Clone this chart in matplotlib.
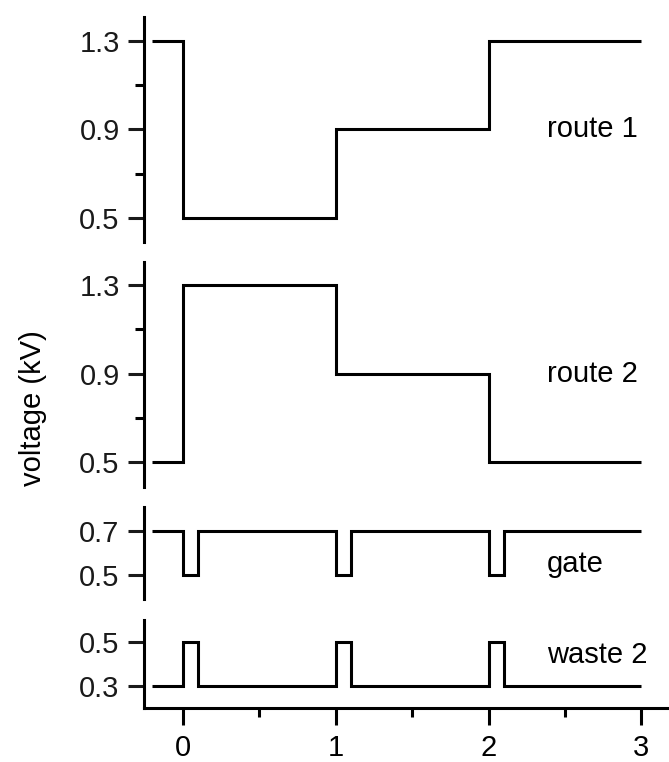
import numpy as np
from matplotlib import pyplot as plt
from matplotlib.ticker import FixedLocator

plt.rcParams['font.family'] = ['Liberation Sans', 'DejaVu Sans']

# ---------------- data ----------------
# step edges (time) and voltage levels (kV) for each channel
route1_t = [-0.2, 0, 1, 2, 3]
route1_v = [1.3, 0.5, 0.9, 1.3]

route2_t = [-0.2, 0, 1, 2, 3]
route2_v = [0.5, 1.3, 0.9, 0.5]

pulse_t = [-0.2, 0, 0.1, 1, 1.1, 2, 2.1, 3]
gate_v = [0.7, 0.5, 0.7, 0.5, 0.7, 0.5, 0.7]
waste2_v = [0.3, 0.5, 0.3, 0.5, 0.3, 0.5, 0.3]

labels = ["route 1", "route 2", "gate", "waste 2"]
yticks = [[0.5, 0.9, 1.3], [0.5, 0.9, 1.3], [0.5, 0.7], [0.3, 0.5]]
yminor = [[0.7, 1.1], [0.7, 1.1], [], []]
ylims = [(0.392, 1.407), (0.388, 1.404), (0.391, 0.809), (0.2, 0.6)]
label_y = [0.9, 0.9, 0.55, 0.44]
xticks = [0, 1, 2, 3]
xminor = [0.5, 1.5, 2.5]

# ---------------- figure ----------------
W, H = 669, 762
fig = plt.figure(figsize=(W / 100, H / 100), dpi=100)

# panel extents in pixels (top, bottom)
panels_px = [(17, 242), (262, 487), (507, 599), (620, 708)]
left_px = 144

series = [(route1_t, route1_v), (route2_t, route2_v),
          (pulse_t, gate_v), (pulse_t, waste2_v)]

lw = 2.2
fs = 21
for i, (top, bot) in enumerate(panels_px):
    ax = fig.add_axes([left_px / W, 1 - bot / H, 1 - left_px / W, (bot - top) / H])
    t, v = series[i]
    ax.stairs(v, t, baseline=None, color='black', lw=lw)
    ax.set_xlim(-0.253, 3.18)
    ax.set_ylim(*ylims[i])
    for s in ['top', 'right']:
        ax.spines[s].set_visible(False)
    ax.spines['left'].set_linewidth(lw)
    ax.set_yticks(yticks[i])
    ax.set_yticklabels([f"{y:.1f}" for y in yticks[i]])
    ax.yaxis.set_minor_locator(FixedLocator(yminor[i]))
    ax.tick_params(axis='y', which='major', length=11.5, width=lw, labelsize=fs,
                   pad=6, colors='#1a1a1a')
    ax.tick_params(axis='y', which='minor', length=6.5, width=lw)
    ax.text(2.38, label_y[i], labels[i], fontsize=fs, va='center', ha='left')
    if i < 3:
        ax.spines['bottom'].set_visible(False)
        ax.set_xticks([])
        ax.xaxis.set_minor_locator(FixedLocator([]))
    else:
        ax.spines['bottom'].set_linewidth(lw)
        ax.set_xticks(xticks)
        ax.xaxis.set_minor_locator(FixedLocator(xminor))
        ax.tick_params(axis='x', which='major', length=12.5, width=lw, labelsize=fs, pad=6)
        ax.tick_params(axis='x', which='minor', length=6.5, width=lw)

fig.text(33 / W, 1 - 408 / H, "voltage (kV)", rotation=90, fontsize=fs,
         ha='center', va='center')

fig.savefig("out.png", dpi=100)
